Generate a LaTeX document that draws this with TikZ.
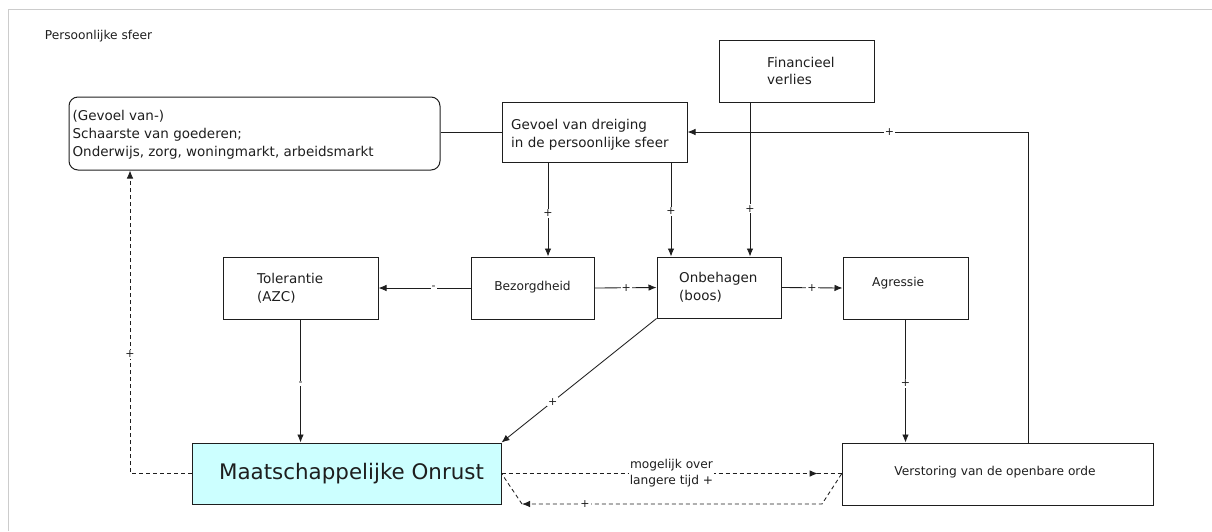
\documentclass[tikz,border=0pt]{standalone}
\usepackage{fontspec}
\setmainfont{DejaVu Sans}
\usetikzlibrary{arrows.meta,decorations.markings}
\definecolor{cyanfill}{HTML}{CCFFFF}
\definecolor{ink}{HTML}{1E1E1E}
\begin{document}
\begin{tikzpicture}[x=1pt,y=-1pt,
  box/.style={draw=ink, line width=1pt, inner sep=0pt},
  txt/.style={inner sep=0pt, align=left, text=ink, font=\fontsize{13.5}{17.8}\selectfont},
  stxt/.style={inner sep=0pt, text=ink, font=\fontsize{12.2}{15}\selectfont},
  wire/.style={draw=ink, line width=0.85pt},
  conn/.style={wire, -{Latex[length=8pt,width=6.5pt]}},
  lbl/.style={fill=white, inner sep=1pt, text=ink, font=\fontsize{11}{13}\selectfont},
  dsh/.style={dash pattern=on 4pt off 3pt},
  midarrow/.style={postaction={decorate}, decoration={markings,
     mark=at position #1 with {\arrow{Latex[length=8pt,width=6.5pt]}}}}
]
\useasboundingbox (0,0) rectangle (1212,531);
\draw[black!20, line width=1pt] (8,531) -- (8,9) -- (1212,9);

\node[stxt, anchor=west] (ps) at (44.7,36) {Persoonlijke sfeer};

% boxes
\node[box, rounded corners=9pt, minimum width=371pt, minimum height=73pt] (sch) at (254.5,133.5) {};
\node[box, minimum width=185pt, minimum height=60pt] (gev) at (594.5,132) {};
\node[box, minimum width=155pt, minimum height=62pt] (fin) at (796.5,71) {};
\node[box, minimum width=155pt, minimum height=62pt] (tol) at (300.5,288) {};
\node[box, minimum width=123pt, minimum height=62pt] (bez) at (532.5,288) {};
\node[box, minimum width=124pt, minimum height=61pt] (onb) at (719,287.5) {};
\node[box, minimum width=125pt, minimum height=62pt] (agr) at (905.5,288) {};
\node[box, fill=cyanfill, minimum width=309pt, minimum height=61pt] (mo) at (346.5,473.5) {};
\node[box, minimum width=311pt, minimum height=62pt] (vo) at (997.5,474) {};

% texts
\node[txt, anchor=west] (schT) at (72.4,135) {(Gevoel van-)\\Schaarste van goederen;\\Onderwijs, zorg, woningmarkt, arbeidsmarkt};
\node[txt, anchor=west] (gevT) at (511,134.5) {Gevoel van dreiging\\in de persoonlijke sfeer};
\node[txt, anchor=west] (finT) at (767,71) {Financieel\\verlies};
\node[txt, anchor=west] (tolT) at (257,288) {Tolerantie\\(AZC)};
\node[stxt] (bezT) at (532.5,287) {Bezorgdheid};
\node[txt, anchor=west] (onbT) at (679,287) {Onbehagen\\(boos)};
\node[stxt, anchor=west] (agrT) at (872,283) {Agressie};
\node[inner sep=0pt, text=ink, font=\fontsize{21.4}{25}\selectfont] (moT) at (351.5,474) {Maatschappelijke Onrust};
\node[stxt] (voT) at (995,472.5) {Verstoring van de openbare orde};

% helper coordinates
\coordinate (c548) at (548,0);
\coordinate (c671) at (671,0);
\coordinate (c750) at (750,0);
\coordinate (c1028) at (1028.5,0);
\coordinate (c130) at (130,0);
\coordinate (r1) at (822,504);
\coordinate (r2) at (522,504);

% connectors
\draw[wire] (sch.east |- gev.west) -- (gev.west);
\draw[conn] (gev.south -| c548) -- node[lbl, pos=0.54]{+} (bez.north -| c548);
\draw[conn] (gev.south -| c671) -- node[lbl, pos=0.52]{+} (onb.north -| c671);
\draw[conn] (fin.south -| c750) -- node[lbl, pos=0.69]{+} (onb.north -| c750);
\draw[conn] (vo.north -| c1028) |- node[lbl, pos=0.704]{+} (gev.east);

\draw[conn] (bez.west) -- node[lbl, pos=0.4]{-} (tol.east);
\draw[conn] (bez.east) -- node[lbl, pos=0.51]{+} (onb.west);
\draw[conn] (onb.east) -- node[lbl, pos=0.5]{+} (agr.west);

\draw[conn] (tol.south) -- node[lbl, pos=0.52]{-} (mo.north -| tol.south);
\draw[conn] (onb.south west) -- node[lbl, pos=0.67]{+} (mo.north east);
\draw[conn] (agr.south) -- node[lbl, pos=0.52]{+} (vo.north -| agr.south);

% dashed feedback
\draw[conn, dsh] (mo.west) -| node[lbl, pos=0.697]{+} (sch.south -| c130);
\draw[wire, dsh, midarrow=0.93] (mo.east) -- node[fill=white, inner sep=0.5pt, align=center, text=ink, font=\fontsize{12.2}{16}\selectfont] (lt) {mogelijk over\\langere tijd +} ([yshift=0.5pt]vo.west);
\draw[conn, dsh] (vo.west) -- (r1) -- node[lbl, pos=0.79]{+} (r2);
\draw[wire, dsh] (r2) -- (mo.east);
\end{tikzpicture}
\end{document}
